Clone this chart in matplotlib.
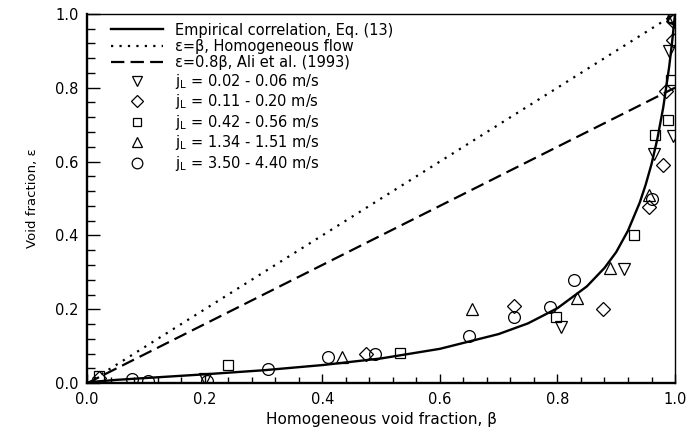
import matplotlib.pyplot as plt
from matplotlib.ticker import MultipleLocator

plt.rcParams['font.family'] = ['DejaVu Sans']
plt.rcParams['mathtext.fontset'] = 'dejavusans'

# Empirical correlation, Eq. (13)
corr_beta = [0, 0.01, 0.02, 0.05, 0.1, 0.15, 0.2, 0.3, 0.4, 0.5, 0.6, 0.7, 0.75, 0.8, 0.85,
             0.88, 0.9, 0.92, 0.94, 0.95, 0.96, 0.97, 0.98, 0.99, 0.995, 1.0]
corr_eps = [0, 0.003, 0.005, 0.009, 0.014, 0.019, 0.024, 0.035, 0.049, 0.067, 0.093, 0.133,
            0.162, 0.203, 0.262, 0.312, 0.355, 0.413, 0.489, 0.537, 0.593, 0.662, 0.747,
            0.856, 0.923, 1.0]

# homogeneous flow and Ali et al. (1993)
homo_beta = [0, 1.0]
homo_eps = [0, 1.0]
ali_beta = [0, 1.0]
ali_eps = [0, 0.8]

# measured data, grouped by superficial liquid velocity
b1 = [0.2, 0.806, 0.913, 0.965, 0.997, 0.99, 0.997]
e1 = [0.01, 0.152, 0.309, 0.62, 0.67, 0.90, 0.99]
b2 = [0.02, 0.475, 0.726, 0.877, 0.956, 0.98, 0.985, 0.997, 0.997]
e2 = [0.015, 0.08, 0.209, 0.2, 0.477, 0.59, 0.79, 0.93, 0.98]
b3 = [0.02, 0.24, 0.533, 0.797, 0.93, 0.966, 0.988, 0.993, 0.997]
e3 = [0.02, 0.049, 0.081, 0.179, 0.401, 0.672, 0.713, 0.82, 0.99]
b4 = [0.434, 0.654, 0.833, 0.889, 0.956, 0.997]
e4 = [0.07, 0.2, 0.23, 0.311, 0.509, 0.995]
b5 = [0.077, 0.104, 0.204, 0.307, 0.409, 0.49, 0.649, 0.726, 0.787, 0.828, 0.96, 0.997]
e5 = [0.011, 0.006, 0.005, 0.038, 0.07, 0.08, 0.127, 0.179, 0.206, 0.279, 0.5, 0.99]

labels = ['Empirical correlation, Eq. (13)',
          'ε=β, Homogeneous flow',
          'ε=0.8β, Ali et al. (1993)',
          'j$_\\mathregular{L}$ = 0.02 - 0.06 m/s',
          'j$_\\mathregular{L}$ = 0.11 - 0.20 m/s',
          'j$_\\mathregular{L}$ = 0.42 - 0.56 m/s',
          'j$_\\mathregular{L}$ = 1.34 - 1.51 m/s',
          'j$_\\mathregular{L}$ = 3.50 - 4.40 m/s']

fig = plt.figure(figsize=(6.86, 4.32), dpi=100)
ax = fig.add_axes([0.127, 0.113, 0.857, 0.855])

ax.plot(corr_beta, corr_eps, color='black', lw=1.7, label=labels[0])
ax.plot(homo_beta, homo_eps, color='black', lw=1.6, ls=(0, (1, 2.8)), label=labels[1])
ax.plot(ali_beta, ali_eps, color='black', lw=1.6, ls=(0, (6, 2.8)), label=labels[2])

mk = dict(ls='none', mfc='none', mec='black', mew=0.9, ms=8.5)
ax.plot(b1, e1, marker='v', label=labels[3], **mk)
ax.plot(b2, e2, marker='D', label=labels[4], **dict(mk, ms=7))
ax.plot(b3, e3, marker='s', label=labels[5], **dict(mk, ms=7))
ax.plot(b4, e4, marker='^', label=labels[6], **mk)
ax.plot(b5, e5, marker='o', label=labels[7], **mk)

ax.set_xlim(0, 1)
ax.set_ylim(0, 1)
ax.xaxis.set_major_locator(MultipleLocator(0.2))
ax.xaxis.set_minor_locator(MultipleLocator(0.04))
ax.yaxis.set_major_locator(MultipleLocator(0.2))
ax.yaxis.set_minor_locator(MultipleLocator(0.04))
ax.xaxis.set_major_formatter(lambda v, p: f'{v:.1f}')
ax.yaxis.set_major_formatter(lambda v, p: f'{v:.1f}')
ax.tick_params(which='both', direction='in', top=False, right=False, labelsize=10.5, width=1.0)
ax.tick_params(axis='x', which='major', length=6.5, pad=6)
ax.tick_params(axis='x', which='minor', length=4)
ax.tick_params(axis='y', which='major', length=9.5, pad=6)
ax.tick_params(axis='y', which='minor', length=5.5)
for s in ax.spines.values():
    s.set_linewidth(1.0)
ax.spines['left'].set_linewidth(1.7)
ax.spines['bottom'].set_linewidth(1.7)

ax.set_xlabel('Homogeneous void fraction, β', fontsize=11, labelpad=4)
ax.set_ylabel('Void fraction, ε', fontsize=9.5, labelpad=12)

ax.legend(loc='upper left', frameon=False, fontsize=10.5, handlelength=3.6,
          handletextpad=0.8, labelspacing=0.1, borderaxespad=0.2, markerscale=0.9,
          bbox_to_anchor=(0.025, 1.0))

fig.savefig('out.png', dpi=100)
